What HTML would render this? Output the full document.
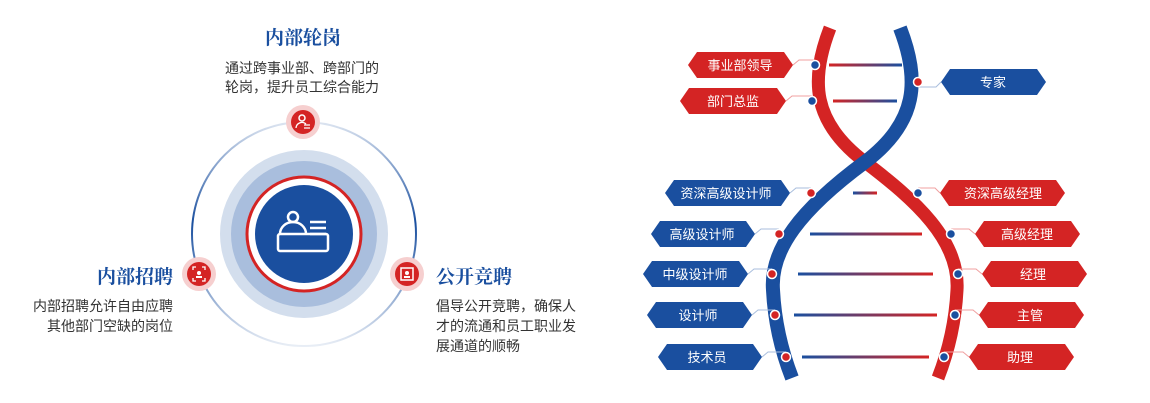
<!DOCTYPE html>
<html><head><meta charset="utf-8"><style>
html,body{margin:0;padding:0;background:#fff;width:1150px;height:403px;overflow:hidden}
svg{display:block}
.t{font-family:"Liberation Serif","Noto Serif CJK SC",serif;font-weight:bold;font-size:19px;fill:#1a4f9f}
.b{font-family:"Liberation Sans","Noto Sans CJK SC",sans-serif;font-size:14px;fill:#333}
.l{font-family:"Liberation Sans","Noto Sans CJK SC",sans-serif;font-size:13px;fill:#fff;text-anchor:middle}
</style></head><body>
<svg width="1150" height="403" viewBox="0 0 1150 403" xmlns="http://www.w3.org/2000/svg">
<defs>
<linearGradient id="ring" x1="0" y1="0" x2="0" y2="1">
<stop offset="0" stop-color="#1a4f9f" stop-opacity="0.15"/>
<stop offset="0.45" stop-color="#1a4f9f" stop-opacity="1"/>
<stop offset="1" stop-color="#1a4f9f" stop-opacity="0.1"/>
</linearGradient>
<linearGradient id="rb" x1="0" x2="1"><stop offset="0" stop-color="#d42424"/><stop offset="1" stop-color="#1a4f9f"/></linearGradient>
<linearGradient id="br" x1="0" x2="1"><stop offset="0" stop-color="#1a4f9f"/><stop offset="1" stop-color="#d42424"/></linearGradient>
</defs>
<!-- left circle diagram -->
<circle cx="304" cy="234" r="112" fill="none" stroke="url(#ring)" stroke-width="2"/>
<circle cx="304" cy="234" r="84" fill="#d3deed"/>
<circle cx="304" cy="234" r="73" fill="#a9bedd"/>
<circle cx="304" cy="234" r="58" fill="#fff"/>
<circle cx="304" cy="234" r="57" fill="none" stroke="#d42424" stroke-width="3"/>
<circle cx="304" cy="234" r="49" fill="#1a4f9f"/>
<g fill="none" stroke="#fff" stroke-width="2.5">
<circle cx="293" cy="217" r="5"/>
<path d="M280 234 a13 12 0 0 1 26 0"/>
<rect x="278" y="234" width="50" height="17" rx="2"/>
<path d="M310 222 h16 M310 228 h16 M310 234 h16"/>
</g>
<g>
<circle cx="303" cy="122" r="17" fill="#f6cfcf"/><circle cx="303" cy="122" r="12" fill="#d42424"/>
<circle cx="302" cy="118" r="3" fill="none" stroke="#fff" stroke-width="1.5"/><path d="M296 128 a6 6 0 0 1 10 -4 M304 125 h6 M304 128 h6" stroke="#fff" stroke-width="1.3" fill="none"/>
<circle cx="199" cy="274" r="17" fill="#f6cfcf"/><circle cx="199" cy="274" r="12" fill="#d42424"/>
<path d="M193 270 v-3 h3 M202 267 h3 v3 M205 278 v3 h-3 M196 281 h-3 v-3" stroke="#fff" stroke-width="1.3" fill="none"/><circle cx="199" cy="273" r="2" fill="#fff"/><rect x="196" y="276" width="6" height="2" fill="#fff"/>
<circle cx="407" cy="274" r="17" fill="#f6cfcf"/><circle cx="407" cy="274" r="12" fill="#d42424"/>
<rect x="401" y="268" width="12" height="12" fill="none" stroke="#fff" stroke-width="1.5"/><circle cx="407" cy="273" r="2" fill="#fff"/><rect x="404" y="276" width="6" height="2" fill="#fff"/>
</g>
<text class="t" x="303" y="44" text-anchor="middle">内部轮岗</text>
<text class="b" x="225" y="73">通过跨事业部、跨部门的</text>
<text class="b" x="225" y="92">轮岗，提升员工综合能力</text>
<text class="t" x="173" y="283" text-anchor="end">内部招聘</text>
<text class="b" x="173" y="311" text-anchor="end">内部招聘允许自由应聘</text>
<text class="b" x="173" y="331" text-anchor="end">其他部门空缺的岗位</text>
<text class="t" x="436" y="283">公开竞聘</text>
<text class="b" x="436" y="311">倡导公开竞聘，确保人</text>
<text class="b" x="436" y="331">才的流通和员工职业发</text>
<text class="b" x="436" y="351">展通道的顺畅</text>

<!-- DNA rungs -->
<g>
<rect x="829" y="63.5" width="73" height="3" fill="url(#rb)"/>
<rect x="833" y="99.5" width="64" height="3" fill="url(#rb)"/>
<rect x="853" y="191.5" width="24" height="3" fill="url(#br)"/>
<rect x="810" y="232.5" width="112" height="3" fill="url(#br)"/>
<rect x="798" y="272.5" width="135" height="3" fill="url(#br)"/>
<rect x="794" y="313.5" width="143" height="3" fill="url(#br)"/>
<rect x="802" y="355.5" width="127" height="3" fill="url(#br)"/>
</g>
<path d="M830 28 C810 80 812 122 865 162 C915 200 960 240 957 290 C955 330 945 360 938 378" fill="none" stroke="#d42424" stroke-width="13"/>
<path d="M900 28 C920 80 918 122 865 162 C800 210 770 250 773 290 C775 330 785 360 792 378" fill="none" stroke="#1a4f9f" stroke-width="14"/>
<g fill="none" stroke-width="1">
<path d="M793 65 L799 60 H815" stroke="#f0a0a0"/>
<path d="M786 101 L792 96 H812" stroke="#f0a0a0"/>
<path d="M941 82 L936 87 H918" stroke="#a9bedd"/>
<path d="M790 193 L796 188 H811" stroke="#a9bedd"/>
<path d="M940 193 L935 188 H918" stroke="#f0a0a0"/>
<path d="M755 234 L761 229 H779" stroke="#a9bedd"/>
<path d="M975 234 L969 229 H951" stroke="#f0a0a0"/>
<path d="M748 274 L754 269 H772" stroke="#a9bedd"/>
<path d="M982 274 L976 269 H958" stroke="#f0a0a0"/>
<path d="M752 315 L758 310 H775" stroke="#a9bedd"/>
<path d="M979 315 L973 310 H955" stroke="#f0a0a0"/>
<path d="M762 357 L768 352 H786" stroke="#a9bedd"/>
<path d="M969 357 L963 352 H944" stroke="#f0a0a0"/>
</g>
<g stroke="#fff" stroke-width="1.5">
<circle cx="815" cy="65" r="4.5" fill="#1a4f9f"/>
<circle cx="812" cy="101" r="4.5" fill="#1a4f9f"/>
<circle cx="918" cy="82" r="4.5" fill="#d42424"/>
<circle cx="811" cy="193" r="4.5" fill="#d42424"/>
<circle cx="918" cy="193" r="4.5" fill="#1a4f9f"/>
<circle cx="779" cy="234" r="4.5" fill="#d42424"/>
<circle cx="951" cy="234" r="4.5" fill="#1a4f9f"/>
<circle cx="772" cy="274" r="4.5" fill="#d42424"/>
<circle cx="958" cy="274" r="4.5" fill="#1a4f9f"/>
<circle cx="775" cy="315" r="4.5" fill="#d42424"/>
<circle cx="955" cy="315" r="4.5" fill="#1a4f9f"/>
<circle cx="786" cy="357" r="4.5" fill="#d42424"/>
<circle cx="944" cy="357" r="4.5" fill="#1a4f9f"/>
</g>
<g>
<polygon points="688,65 697,52 784,52 793,65 784,78 697,78" fill="#d42424"/><text class="l" x="740" y="70">事业部领导</text>
<polygon points="680,101 689,88 777,88 786,101 777,114 689,114" fill="#d42424"/><text class="l" x="733" y="106">部门总监</text>
<polygon points="941,82 950,69 1037,69 1046,82 1037,95 950,95" fill="#1a4f9f"/><text class="l" x="993" y="87">专家</text>
<polygon points="665,193 674,180 781,180 790,193 781,206 674,206" fill="#1a4f9f"/><text class="l" x="726" y="198">资深高级设计师</text>
<polygon points="940,193 949,180 1056,180 1065,193 1056,206 949,206" fill="#d42424"/><text class="l" x="1003" y="198">资深高级经理</text>
<polygon points="651,234 660,221 746,221 755,234 746,247 660,247" fill="#1a4f9f"/><text class="l" x="702" y="239">高级设计师</text>
<polygon points="975,234 984,221 1071,221 1080,234 1071,247 984,247" fill="#d42424"/><text class="l" x="1027" y="239">高级经理</text>
<polygon points="643,274 652,261 739,261 748,274 739,287 652,287" fill="#1a4f9f"/><text class="l" x="695" y="279">中级设计师</text>
<polygon points="982,274 991,261 1078,261 1087,274 1078,287 991,287" fill="#d42424"/><text class="l" x="1033" y="279">经理</text>
<polygon points="647,315 656,302 743,302 752,315 743,328 656,328" fill="#1a4f9f"/><text class="l" x="698" y="320">设计师</text>
<polygon points="979,315 988,302 1075,302 1084,315 1075,328 988,328" fill="#d42424"/><text class="l" x="1030" y="320">主管</text>
<polygon points="658,357 667,344 753,344 762,357 753,370 667,370" fill="#1a4f9f"/><text class="l" x="707" y="362">技术员</text>
<polygon points="969,357 978,344 1065,344 1074,357 1065,370 978,370" fill="#d42424"/><text class="l" x="1020" y="362">助理</text>
</g>
</svg>
</body></html>
